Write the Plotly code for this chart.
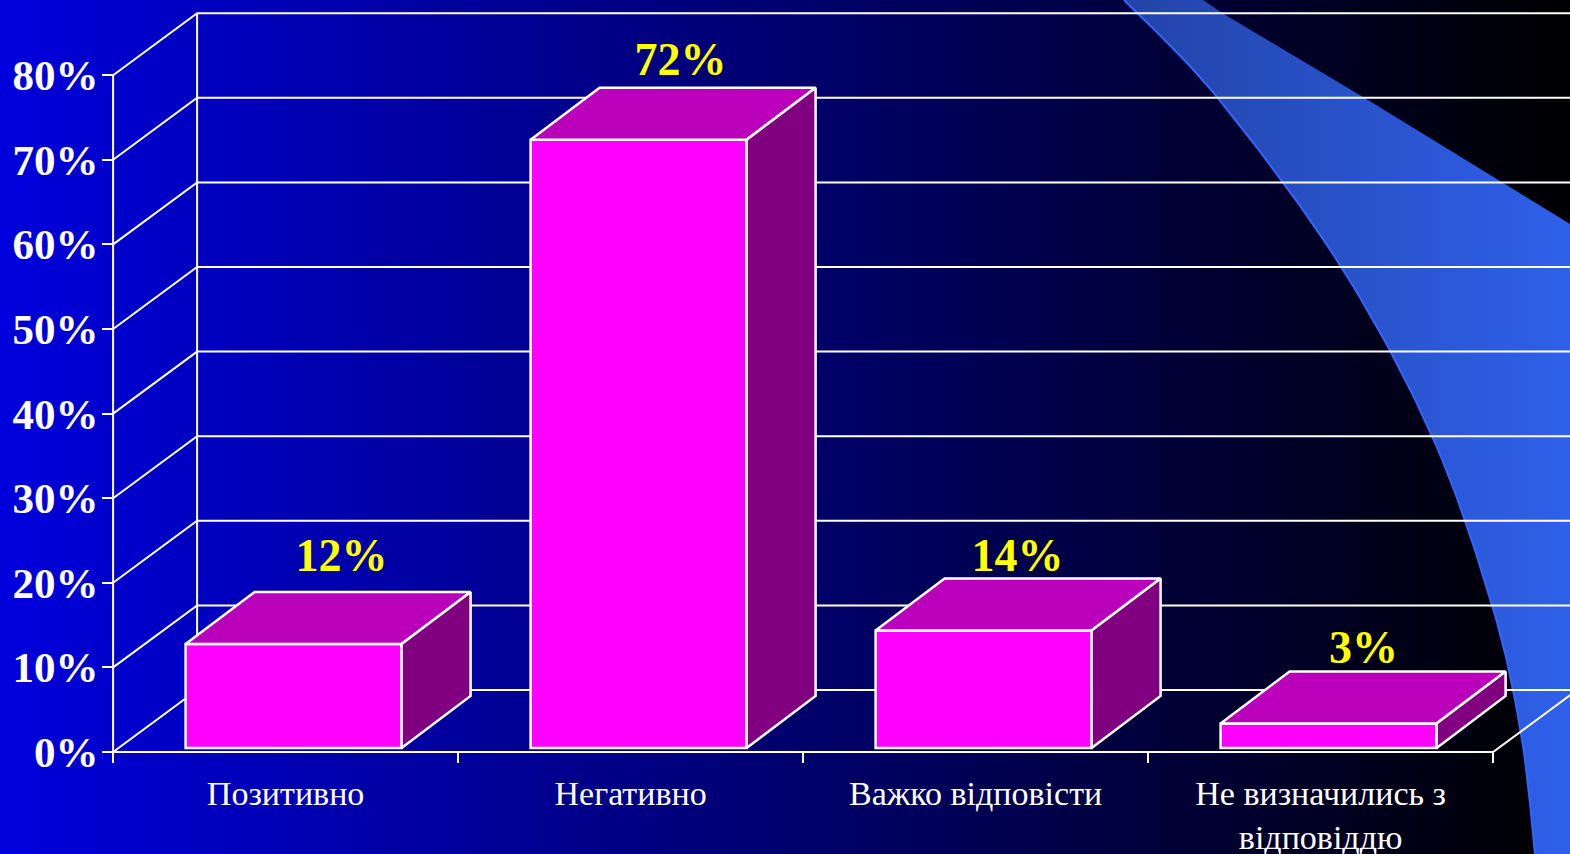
import plotly.graph_objects as go

# ---------- data ----------
CATEGORIES = ["Позитивно", "Негативно", "Важко відповісти", "Не визначились з<br>відповіддю"]
VALUES = [12.3, 71.9, 13.9, 2.9]
VALUE_LABELS = ["12%", "72%", "14%", "3%"]
Y_TICKS = [0, 10, 20, 30, 40, 50, 60, 70, 80]
Y_TICK_LABELS = ["0%", "10%", "20%", "30%", "40%", "50%", "60%", "70%", "80%"]

# ---------- page geometry ----------
W, H = 1570, 854
X0_PX, X_UNIT_PX = 113.1, 345.0   # pixel of category edge 0, px per category
Y0_PX, Y_UNIT_PX = 752, 8.46      # pixel of 0%, px per percent


def ux(px):
    return (px - X0_PX) / X_UNIT_PX


def uy(px):
    return (Y0_PX - px) / Y_UNIT_PX


X_RANGE = [ux(0), ux(W)]
Y_RANGE = [uy(H), uy(0)]

WALL_DX, WALL_DY = 84 / X_UNIT_PX, 62 / Y_UNIT_PX
BAR_DX, BAR_DY = 69 / X_UNIT_PX, 52 / Y_UNIT_PX
BAR_WIDTH = 216 / X_UNIT_PX
BAR_SHIFT = 8 / X_UNIT_PX
BAR_BASE = 4 / Y_UNIT_PX
LABEL_SHIFT_PX = [48, 42, 34, 35]
LABEL_LIFT_PX = [32, 24, 19, 20]

WHITE = "#FFFFFF"
FRONT, TOP, SIDE = "#FF00FF", "#BB00BB", "#800080"

# decorative swoosh outline, in page pixels
SWOOSH_EDGE_X = [1124, 1217, 1340, 1432, 1492, 1521, 1535]
SWOOSH_EDGE_Y = [0, 97, 265, 436, 605, 733, 854]
SWOOSH_TOP_X = [1570, 1500, 1363, 1222, 1203]
SWOOSH_TOP_Y = [224, 181, 97, 13, 0]


def smooth(xs, ys, steps=16):
    """Catmull-Rom smoothing of the decorative outline."""
    ox, oy = [], []
    n = len(xs)
    for i in range(n - 1):
        i0, i2, i3 = max(i - 1, 0), i + 1, min(i + 2, n - 1)
        for k in range(steps):
            t = k / steps
            for src, out in ((xs, ox), (ys, oy)):
                p0, p1, p2, p3 = src[i0], src[i], src[i2], src[i3]
                out.append(0.5 * (2 * p1 + (p2 - p0) * t
                                  + (2 * p0 - 5 * p1 + 4 * p2 - p3) * t * t
                                  + (3 * p1 - p0 - 3 * p2 + p3) * t ** 3))
    ox.append(xs[-1])
    oy.append(ys[-1])
    return ox, oy


edge_x, edge_y = smooth(SWOOSH_EDGE_X, SWOOSH_EDGE_Y)

fig = go.Figure()

# background gradient
fig.add_trace(go.Scatter(
    x=[X_RANGE[0], X_RANGE[1], X_RANGE[1], X_RANGE[0], X_RANGE[0]],
    y=[Y_RANGE[0], Y_RANGE[0], Y_RANGE[1], Y_RANGE[1], Y_RANGE[0]],
    mode="none", fill="toself", hoverinfo="skip",
    fillgradient=dict(type="horizontal",
                      colorscale=[[0, "#0000DC"], [1, "#000000"]]),
))

# swoosh
sx = edge_x + [1570, 1570] + SWOOSH_TOP_X + [edge_x[0]]
sy = edge_y + [854, 224] + SWOOSH_TOP_Y + [edge_y[0]]
fig.add_trace(go.Scatter(
    x=[ux(v) for v in sx], y=[uy(v) for v in sy],
    mode="none", fill="toself", hoverinfo="skip",
    fillgradient=dict(type="horizontal",
                      colorscale=[[0, "#2244A8"], [1, "#2F60EA"]]),
))
fig.add_trace(go.Scatter(
    x=[ux(v) for v in edge_x], y=[uy(v) for v in edge_y],
    mode="lines", line=dict(color="#3366FF", width=2),
    hoverinfo="skip",
))

# walls, floor and gridlines
N = len(CATEGORIES)
gx, gy = [], []
for t in Y_TICKS:
    gx += [0, WALL_DX, N + WALL_DX, None]
    gy += [t, t + WALL_DY, t + WALL_DY, None]
gx += [0, 0, None, WALL_DX, WALL_DX, None, 0, N, N + WALL_DX]
gy += [Y_TICKS[0], Y_TICKS[-1], None, WALL_DY, Y_TICKS[-1] + WALL_DY, None, 0, 0, WALL_DY]
fig.add_trace(go.Scatter(x=gx, y=gy, mode="lines", hoverinfo="skip",
                         line=dict(color=WHITE, width=2)))

# bars (overlay axes so they sit over the gridlines)
centers = [i + 0.5 + BAR_SHIFT for i in range(N)]
fig.add_trace(go.Bar(
    x=centers, y=VALUES, base=BAR_BASE, width=BAR_WIDTH,
    marker=dict(color=FRONT, line=dict(color=WHITE, width=2.5)),
    xaxis="x2", yaxis="y2",
))
for c, v in zip(centers, VALUES):
    l, r = c - BAR_WIDTH / 2, c + BAR_WIDTH / 2
    b, t = BAR_BASE, BAR_BASE + v
    fig.add_trace(go.Scatter(
        x=[l, r, r + BAR_DX, l + BAR_DX, l], y=[t, t, t + BAR_DY, t + BAR_DY, t],
        mode="lines", fill="toself", fillcolor=TOP,
        line=dict(color=WHITE, width=2.5), xaxis="x2", yaxis="y2", hoverinfo="skip",
    ))
    fig.add_trace(go.Scatter(
        x=[r, r + BAR_DX, r + BAR_DX, r, r], y=[b, b + BAR_DY, t + BAR_DY, t, b],
        mode="lines", fill="toself", fillcolor=SIDE,
        line=dict(color=WHITE, width=2.5), xaxis="x2", yaxis="y2", hoverinfo="skip",
    ))

# value labels
fig.add_trace(go.Scatter(
    x=[c + s / X_UNIT_PX for c, s in zip(centers, LABEL_SHIFT_PX)],
    y=[BAR_BASE + v + BAR_DY + s / Y_UNIT_PX for v, s in zip(VALUES, LABEL_LIFT_PX)],
    text=VALUE_LABELS, mode="text", textposition="middle center",
    textfont=dict(family="Liberation Serif", size=46, color="#FFFF00", weight="bold"),
    xaxis="x2", yaxis="y2", hoverinfo="skip",
))

fig.update_layout(
    width=W, height=H, margin=dict(l=0, r=0, t=0, b=0, pad=0, autoexpand=False),
    showlegend=False, paper_bgcolor="#000060", plot_bgcolor="rgba(0,0,0,0)",
    xaxis=dict(
        domain=[0, 1], range=X_RANGE, anchor="free", position=(H - Y0_PX) / H,
        tickmode="array", tickvals=[i + 0.5 for i in range(N)], ticktext=CATEGORIES,
        ticks="", showgrid=False, zeroline=False, ticklabelstandoff=18,
        automargin=False,
        tickfont=dict(family="Liberation Serif", size=34, color=WHITE),
        tickangle=0,
        minor=dict(tickmode="array", tickvals=list(range(N + 1)), ticks="outside",
                   ticklen=10, tickwidth=2, tickcolor=WHITE, showgrid=False),
    ),
    yaxis=dict(
        domain=[0, 1], range=Y_RANGE, anchor="free", position=X0_PX / W,
        tickmode="array", tickvals=Y_TICKS, ticktext=Y_TICK_LABELS,
        ticks="outside", ticklen=11, tickwidth=2, tickcolor=WHITE,
        showgrid=False, zeroline=False, ticklabelstandoff=-5, automargin=False,
        tickfont=dict(family="Liberation Serif", size=43, color=WHITE, weight="bold"),
    ),
    xaxis2=dict(domain=[0, 1], range=X_RANGE, overlaying="x", visible=False, anchor="y2"),
    yaxis2=dict(domain=[0, 1], range=Y_RANGE, overlaying="y", visible=False, anchor="x2"),
)

fig.write_html(
    "out.html",
    config=dict(displayModeBar=False),
    post_script="document.body.style.margin='0';document.body.style.overflow='hidden';",
)
